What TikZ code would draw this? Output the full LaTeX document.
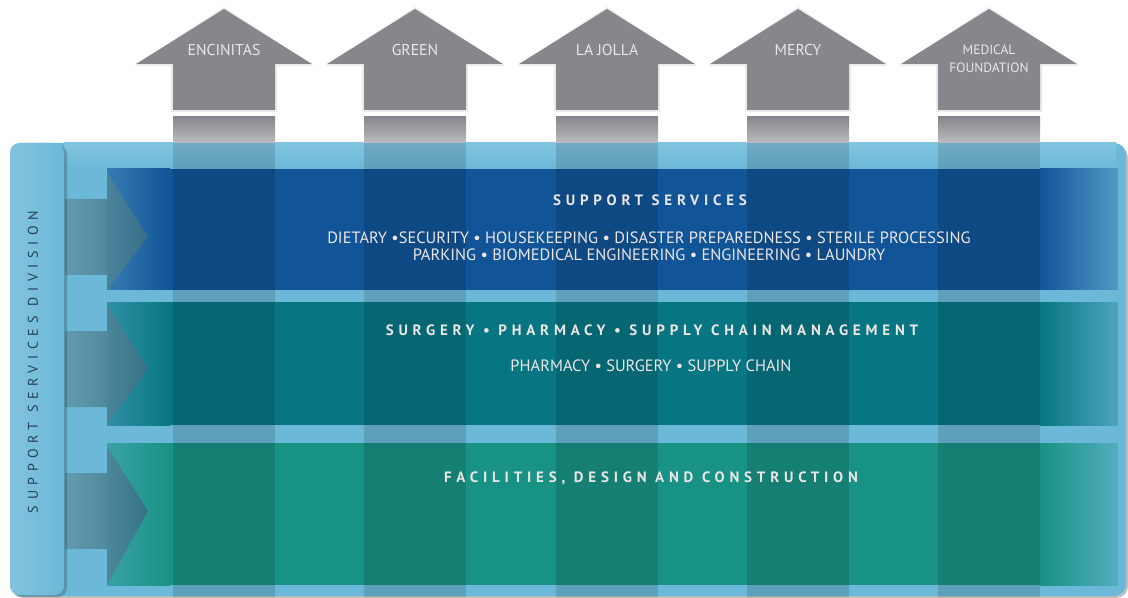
\documentclass[tikz,border=0pt]{standalone}
\usepackage{fontspec}
\setmainfont{PT Sans}
\newfontfamily\spaced[LetterSpace=32]{PT Sans}
\newfontfamily\sidefont[LetterSpace=40]{PT Sans}

\definecolor{boardblue}{RGB}{108,184,216}
\definecolor{topstrip}{RGB}{128,196,224}
\definecolor{svcblue}{RGB}{18,84,152}
\definecolor{surgteal}{RGB}{8,118,130}
\definecolor{facgreen}{RGB}{24,146,132}
\definecolor{arrowgray}{RGB}{134,134,140}
\definecolor{feedlight}{RGB}{98,152,172}
\definecolor{feeddark}{RGB}{58,112,134}
\definecolor{labeltext}{RGB}{234,230,230}
\definecolor{sidetext}{RGB}{38,66,86}

\tikzset{
  arrowlabel/.style={text=labeltext,font=\fontsize{13.4}{15}\selectfont,align=center,inner sep=0pt},
  headline/.style={text=labeltext,font=\spaced\bfseries\fontsize{12.8}{14}\selectfont,inner sep=0pt},
  itemline/.style={text=labeltext,font=\fontsize{14}{14.5}\selectfont,align=center,inner sep=0pt},
  column/.style={fill=black,opacity=0.13}
}

\begin{document}
\begin{tikzpicture}[x=0.03cm,y=-0.03cm]
\useasboundingbox (0,0) rectangle (1128,598);

% board with its shadow
\fill[black,opacity=0.25,rounded corners=10] (12,146) rectangle (1128,598);
\fill[boardblue,rounded corners=10] (10,143) rectangle (1126,596);
\shade[top color=topstrip,bottom color=boardblue] (64,143) rectangle (1116,169);

% the three bands, with the feed arrows from the left panel
\foreach \top/\bot/\mid/\col in {169/290/237/svcblue,302/425/369/surgteal,443/585/511/facgreen}{
  \shade[left color=\col!60!boardblue,right color=\col] (107,\top) rectangle (170,\bot);
  \fill[\col] (170,\top) rectangle (1040,\bot);
  \shade[left color=\col,right color=\col!30!boardblue] (1040,\top) rectangle (1118,\bot);
  \shade[left color=feedlight,right color=feeddark,opacity=0.9]
    (65,\mid-38) -- (107,\mid-38) -- (107,\top+3) -- (148,\mid)
    -- (107,\bot) -- (107,\mid+38) -- (65,\mid+38) -- cycle;
}

% arrows going up out of the board
\foreach \c/\name/\id in {224/ENCINITAS/encinitas,415/GREEN/green,607/LA JOLLA/lajolla,798/MERCY/mercy,989/{}/foundation}{
  \fill[black,opacity=0.08] (\c-90,66) -- (\c,7) -- (\c+90,66) -- (\c+53,66) -- (\c+53,112) -- (\c-53,112) -- (\c-53,66) -- cycle;
  \fill[arrowgray] (\c-88,64) -- (\c,9) -- (\c+88,64) -- (\c+51,64) -- (\c+51,110) -- (\c-51,110) -- (\c-51,64) -- cycle;
  \shade[top color=arrowgray,bottom color=arrowgray!55!white] (\c-51,117) rectangle (\c+51,143);
  \fill[column] (\c-51,143) rectangle (\c+51,597);
  \node[arrowlabel] (\id) at (\c,50) {\name};
}
\node[arrowlabel,font=\fontsize{11.5}{15}\selectfont] (medical) at (989,59) {MEDICAL\\FOUNDATION};

% left panel
\fill[black,opacity=0.2,rounded corners=8] (12,145) rectangle (67,597);
\shade[left color=boardblue!85!white,right color=boardblue,rounded corners=8] (10,143) rectangle (64,595);
\node[text=sidetext,font=\sidefont\fontsize{12}{12}\selectfont,rotate=90,inner sep=0pt] (division) at (33,362) {SUPPORT SERVICES DIVISION};

% band texts
\node[headline] (support) at (650,200) {SUPPORT SERVICES};
\node[itemline] (supportlist) at (649,246.5) {DIETARY •SECURITY • HOUSEKEEPING • DISASTER PREPAREDNESS • STERILE PROCESSING\\PARKING • BIOMEDICAL ENGINEERING • ENGINEERING • LAUNDRY};
\node[headline] (surgery) at (652,330) {SURGERY • PHARMACY • SUPPLY CHAIN MANAGEMENT};
\node[itemline] (surgerylist) at (651,366) {PHARMACY • SURGERY • SUPPLY CHAIN};
\node[headline] (facilities) at (651,478) {FACILITIES, DESIGN AND CONSTRUCTION};
\end{tikzpicture}
\end{document}
